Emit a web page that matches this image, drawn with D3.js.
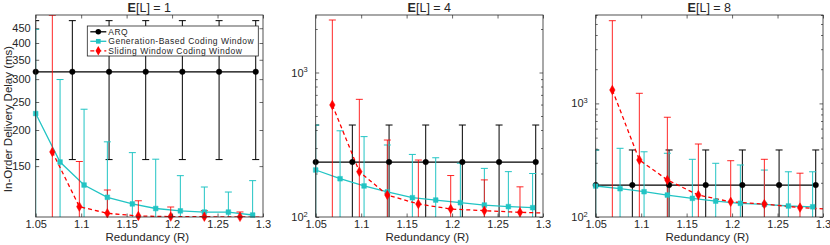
<!DOCTYPE html>
<html>
<head>
<meta charset="utf-8">
<script src="https://cdn.jsdelivr.net/npm/d3@7"></script>
<style>
  body { margin: 0; background: #fff; }
  svg text { font-family: 'Liberation Sans', Arial, sans-serif; fill: #262626; }
</style>
</head>
<body>
<div id="chart"></div>
<script>
// values, delays in ms (mean and +/- error half-width)
const xTicks = [1.05, 1.1, 1.15, 1.2, 1.25, 1.3];
const lossLabels = ['1', '4', '8'];
const yMax = [500, 2500, 6000];
const linearTicks = [150, 200, 250, 300, 350, 400, 450];
const seriesNames = ['ARQ', 'Generation-Based Coding Window', 'Sliding Window Coding Window'];

const arqX = [1.05, 1.0903, 1.1307, 1.171, 1.2113, 1.2517, 1.292];
const gbX = [1.05, 1.0768, 1.1032, 1.1288, 1.1563, 1.182, 1.2091, 1.2355, 1.2619, 1.2886];
const swX = [1.0683, 1.098, 1.1288, 1.1629, 1.1985, 1.2355, 1.2747, 1.316];

const arqMean = [
  [318, 318, 318, 318, 318, 318, 318],
  [240, 240, 240, 240, 240, 240, 240],
  [191, 191, 191, 191, 191, 191, 191]
];
const arqErr = [
  [160, 160, 160, 160, 160, 160, 160],
  [193, 193, 193, 193, 193, 193, 193],
  [198, 198, 198, 198, 198, 198, 198]
];
const gbMean = [
  [228, 155, 129, 117, 111, 107, 105, 104, 104, 101.6],
  [211.5, 184, 164, 149, 136, 131, 125.6, 121, 118, 116],
  [187.5, 177.5, 167, 156, 146, 138, 132, 129, 125, 123]
];
const gbErr = [
  [218, 144, 107, 65, 56, 51.5, 34, 23, 18, 32],
  [221, 211, 196, 166, 135, 126, 110, 96, 88, 84],
  [201, 225, 208, 208, 176, 159, 155, 130, 125, 127]
];
const swMean = [
  [168, 108.6, 103, 100.8, 100.3, 100.2, 100.1, 99.5],
  [596, 206, 142, 123, 113.6, 110.6, 107.7, 106],
  [1312, 318, 212, 156, 136, 130, 121, 116]
];
const swErr = [
  [331, 47, 21, 13, 8, 5, 4, 3],
  [1712, 446, 199, 125, 80, 70, 54, 40],
  [4034, 909, 543, 283, 177, 192, 122, 100]
];

const W = 830, H = 245;
const svg = d3.select('#chart').append('svg').attr('width', W).attr('height', H);

const styles = [
  { color: '#000000', dash: null, marker: d3.symbolCircle, size: 24, barOpacity: 1 },
  { color: '#22c4c4', dash: null, marker: d3.symbolSquare, size: 22, barOpacity: 1 },
  { color: '#ff0000', dash: '4,3', marker: d3.symbolDiamond, size: 26, barOpacity: 0.85 }
];

function drawPanel(i) {
  const left = 35.7 + i * 280, top = 15, w = 227.3, h = 202;
  const g = svg.append('g').attr('transform', `translate(${left},${top})`);
  const x = d3.scaleLinear().domain([1.05, 1.3]).range([0, w]);
  const y = d3.scaleLog().domain([100, yMax[i]]).range([h, 0]);

  svg.append('clipPath').attr('id', 'clip' + i)
    .append('rect').attr('width', w).attr('height', h);
  const plot = g.append('g').attr('clip-path', `url(#clip${i})`);

  const series = [
    { xs: arqX, m: arqMean[i], e: arqErr[i] },
    { xs: gbX, m: gbMean[i], e: gbErr[i] },
    { xs: swX, m: swMean[i], e: swErr[i] }
  ];
  const yv = v => y(Math.max(v, 1));

  series.forEach((s, k) => {
    const st = styles[k];
    const pts = s.xs.map((xv, j) => ({ x: xv, m: s.m[j], lo: s.m[j] - s.e[j], hi: s.m[j] + s.e[j] }));
    const bars = plot.append('g').attr('stroke', st.color).attr('stroke-width', 1)
      .attr('stroke-opacity', st.barOpacity).attr('fill', 'none');
    pts.forEach(p => {
      const px = x(p.x);
      bars.append('line').attr('x1', px).attr('x2', px).attr('y1', yv(p.lo)).attr('y2', yv(p.hi));
      [p.lo, p.hi].forEach(v => {
        bars.append('line').attr('x1', px - 3.5).attr('x2', px + 3.5).attr('y1', yv(v)).attr('y2', yv(v));
      });
    });
    plot.append('path').datum(pts)
      .attr('fill', 'none').attr('stroke', st.color).attr('stroke-width', 1.3)
      .attr('stroke-dasharray', st.dash)
      .attr('d', d3.line().x(p => x(p.x)).y(p => y(p.m)));
    g.append('g').selectAll('path')
      .data(pts.filter(p => p.x <= 1.3 && p.m >= 99.8 && p.m <= yMax[i]))
      .join('path')
      .attr('transform', p => `translate(${x(p.x)},${y(p.m)})`)
      .attr('d', d3.symbol().type(st.marker).size(st.size))
      .attr('fill', st.color).attr('stroke', st.color).attr('stroke-width', 0.5);
  });

  // axes: ticks pointing inward on all four sides
  const axisCol = '#262626';
  const tidy = a => {
    a.select('.domain').remove();
    a.selectAll('.tick line').attr('stroke', axisCol).attr('stroke-width', 0.7);
    a.selectAll('.tick text').attr('font-size', 11).attr('fill', axisCol);
  };
  g.append('g').attr('transform', `translate(0,${h})`)
    .call(d3.axisBottom(x).tickValues(xTicks).tickSize(-3.5).tickPadding(3.6).tickFormat(d3.format('')))
    .call(tidy);
  g.append('g')
    .call(d3.axisTop(x).tickValues(xTicks).tickSize(-3.5).tickFormat(''))
    .call(tidy);

  let major, minor = [];
  if (i === 0) {
    major = linearTicks;
  } else {
    major = [100, 1000];
    for (let d = 100; d < yMax[i]; d *= 10)
      for (let k = 2; k <= 9; k++) if (k * d <= yMax[i]) minor.push(k * d);
  }
  const yl = g.append('g')
    .call(d3.axisLeft(y).tickValues(major).tickSize(-3.5).tickPadding(5).tickFormat(d3.format('d')))
    .call(tidy);
  if (i > 0) {
    yl.selectAll('.tick text').each(function(d) {
      const t = d3.select(this).text(null).attr('dx', '-3');
      t.append('tspan').text('10');
      t.append('tspan').attr('dy', '-0.55em').attr('font-size', 7.5).text(Math.round(Math.log10(d)));
    });
  }
  g.append('g').attr('transform', `translate(${w},0)`)
    .call(d3.axisRight(y).tickValues(major).tickSize(-3.5).tickFormat(''))
    .call(tidy);
  if (minor.length) {
    g.append('g').call(d3.axisLeft(y).tickValues(minor).tickSize(-2).tickFormat('')).call(tidy);
    g.append('g').attr('transform', `translate(${w},0)`)
      .call(d3.axisRight(y).tickValues(minor).tickSize(-2).tickFormat('')).call(tidy);
  }
  g.append('rect').attr('width', w).attr('height', h)
    .attr('fill', 'none').attr('stroke', axisCol).attr('stroke-width', 0.8);

  // title
  const title = svg.append('text').attr('x', left + w / 2).attr('y', 11.5)
    .attr('text-anchor', 'middle').attr('font-size', 12.5).attr('fill', '#000');
  title.append('tspan').attr('font-weight', 'bold').text('E');
  title.append('tspan').text(`[L] = ${lossLabels[i]}`);

  svg.append('text').attr('x', left + w / 2 - 2).attr('y', 241)
    .attr('text-anchor', 'middle').attr('font-size', 11.5).text('Redundancy (R)');

  if (i === 0) {
    svg.append('text').attr('transform', `translate(11.5,${top + h / 2 + 3}) rotate(-90)`)
      .attr('text-anchor', 'middle').attr('font-size', 11.5).text('In-Order Delivery Delay (ms)');

    // legend
    const lg = svg.append('g').attr('transform', 'translate(87.3,26)');
    lg.append('rect').attr('width', 171).attr('height', 30)
      .attr('fill', '#fff').attr('stroke', axisCol).attr('stroke-width', 0.8);
    seriesNames.forEach((name, k) => {
      const st = styles[k];
      const ry = 5.8 + k * 9.5;
      lg.append('line').attr('x1', 3).attr('x2', 19).attr('y1', ry).attr('y2', ry)
        .attr('stroke', st.color).attr('stroke-width', 1.3).attr('stroke-dasharray', st.dash);
      lg.append('path').attr('transform', `translate(11,${ry})`)
        .attr('d', d3.symbol().type(st.marker).size(st.size)).attr('fill', st.color);
      lg.append('text').attr('x', 21).attr('y', ry).attr('dy', '0.33em')
        .attr('font-size', 8.5).attr('letter-spacing', 0.5).attr('fill', '#000').text(name);
    });
  }
}

[0, 1, 2].forEach(drawPanel);
</script>
</body>
</html>
